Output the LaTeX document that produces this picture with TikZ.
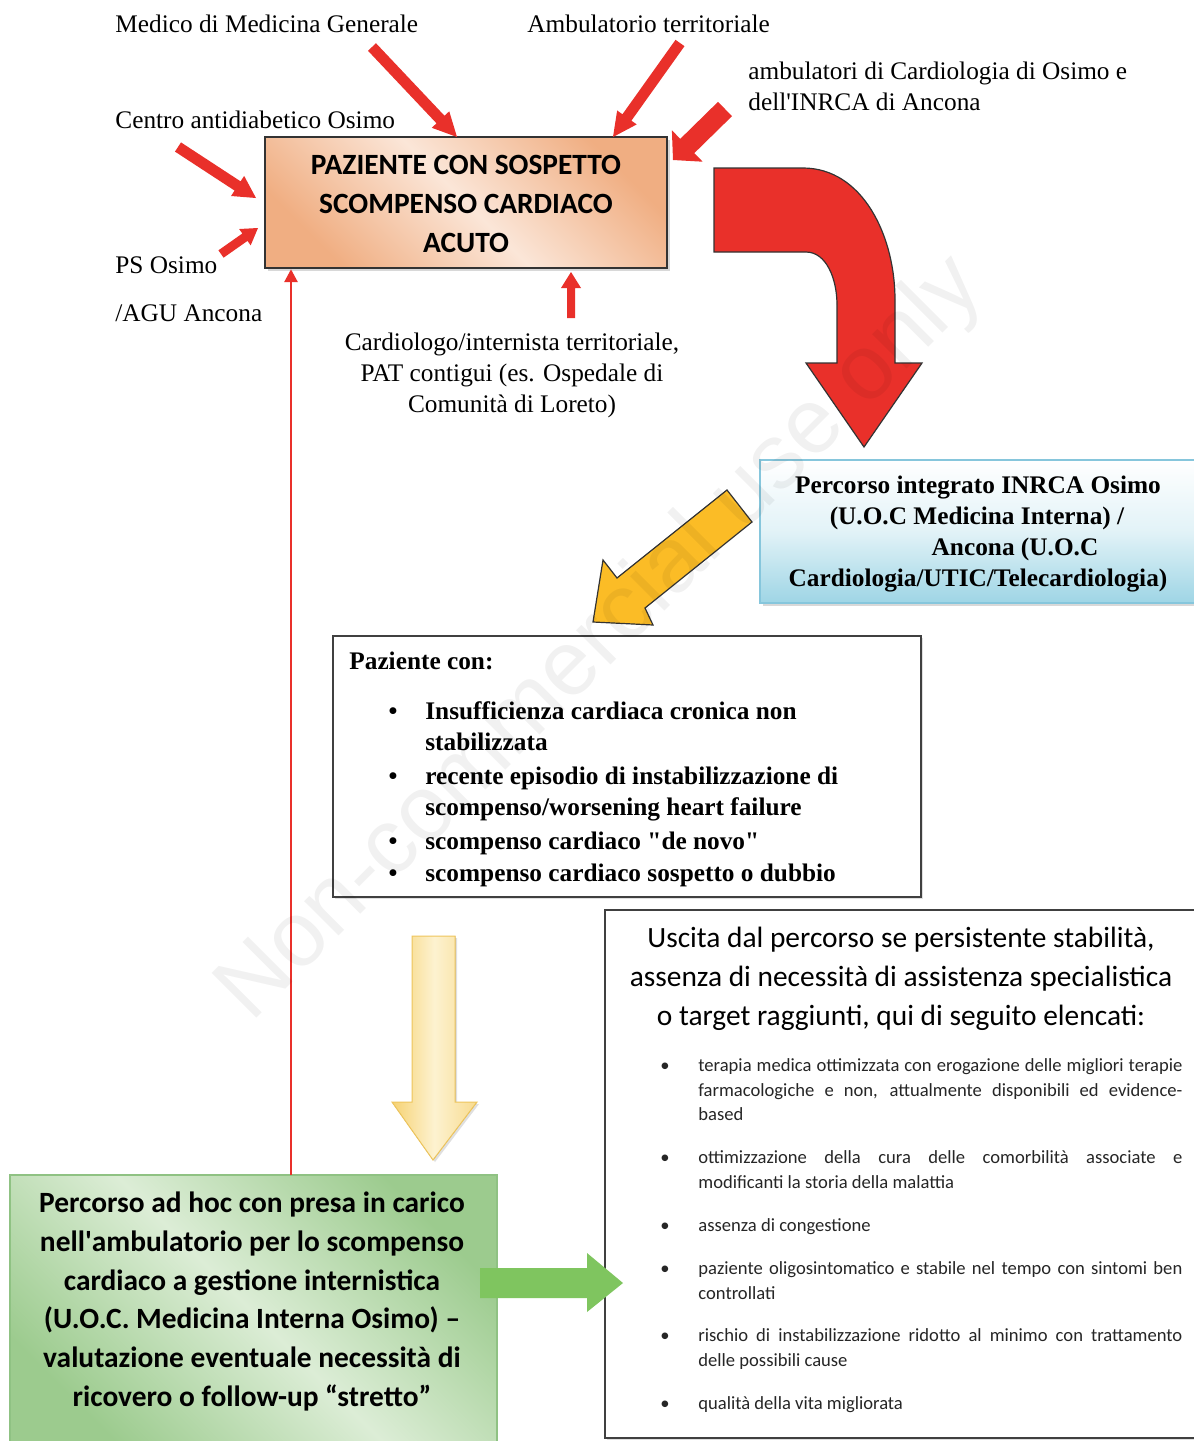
\documentclass[tikz,border=0pt]{standalone}
\usepackage{fontspec}
\setmainfont{Liberation Serif}
\newfontfamily\calib{Carlito}
\newfontfamily\wmfont{Liberation Sans}
\usetikzlibrary{calc,shadows,arrows.meta}

\definecolor{redA}{HTML}{E9302A}
\definecolor{orD}{HTML}{F0AE82}
\definecolor{orL}{HTML}{FBE6D8}
\definecolor{grD}{HTML}{9CCB8E}
\definecolor{grL}{HTML}{DCEDD6}
\definecolor{grE}{HTML}{8FC283}
\definecolor{blB}{HTML}{9ED5E5}
\definecolor{blE}{HTML}{86C6DC}
\definecolor{yelA}{HTML}{FBBC26}
\definecolor{yelD}{HTML}{F6D273}
\definecolor{yelL}{HTML}{FDF2D0}
\definecolor{yelE}{HTML}{EEC55C}
\definecolor{grA}{HTML}{7FC55F}

% straight block arrow: [style]{tail}{tip}{half shaft}{half head}{head length}
\newcommand{\bkarrow}[6][]{%
  \path (#2) coordinate (ba-t) (#3) coordinate (ba-h);
  \path ($(ba-h)!#6!(ba-t)$) coordinate (ba-b);
  \fill[#1] ($(ba-t)!#4!90:(ba-h)$) -- ($(ba-b)!#4!-90:(ba-t)$)
    -- ($(ba-b)!#5!-90:(ba-t)$) -- (ba-h) -- ($(ba-b)!#5!90:(ba-t)$)
    -- ($(ba-b)!#4!90:(ba-t)$) -- ($(ba-t)!#4!-90:(ba-h)$) -- cycle;
}
% justified line of the exit criteria
\newcommand{\jline}[1]{\makebox[242pt][s]{#1}}

\begin{document}
\begin{tikzpicture}[x=0.5pt, y=-0.5pt,
  tms/.style={inner sep=0pt, font=\fontsize{12.65}{15.5}\selectfont},
  tmsb/.style={inner sep=0pt, font=\fontsize{12.65}{15.5}\selectfont\bfseries},
  cal/.style={inner sep=0pt, font=\calib\fontsize{14.7}{19.5}\selectfont},
  calb/.style={inner sep=0pt, font=\calib\bfseries\fontsize{14.7}{19.5}\selectfont},
  calsm/.style={inner sep=0pt, font=\calib\fontsize{9.3}{12.5}\selectfont, text=black!85},
  bw/.style={anchor=base west},
  bc/.style={anchor=base},
  redfill/.style={fill=redA},
  softshadow/.style={drop shadow={shadow xshift=1.5pt, shadow yshift=-1.5pt, opacity=0.3}},
]
\useasboundingbox (0,0) rectangle (1194,1441);
\clip (0,0) rectangle (1194,1441);
\fill[white] (0,0) rectangle (1194,1441);

% ---------- boxes ----------
\node[draw=black!80, line width=1.2pt, minimum width=201pt, minimum height=65.5pt,
  top color=orD, bottom color=orD, middle color=orL, shading angle=-45, softshadow]
  (obox) at (466,202.5) {};
\node[draw=blE, line width=0.8pt, minimum width=220pt, minimum height=71.5pt,
  top color=white, bottom color=blB, middle color=white!70!blB, softshadow]
  (bbox) at (980,531.5) {};
\node[draw=black!75, line width=1pt, fill=white, minimum width=294pt, minimum height=130.5pt,
  drop shadow={shadow xshift=1pt, shadow yshift=-1pt, opacity=0.25}]
  (pbox) at (627,766.5) {};
\node[draw=black!75, line width=1pt, fill=white, minimum width=300pt, minimum height=264pt,
  drop shadow={shadow xshift=1pt, shadow yshift=-1pt, opacity=0.25}]
  (rbox) at (905,1174) {};
\node[draw=grE, line width=0.8pt, minimum width=243.5pt, minimum height=137.5pt,
  top color=grD, bottom color=grD, middle color=grL, shading angle=-45]
  (gbox) at (253.5,1312.5) {};

% ---------- incoming red arrows ----------
\coordinate (mmgT) at (372,47);   \coordinate (mmgH) at (457,137);
\coordinate (ambT) at (680,43);   \coordinate (ambH) at (613,137);
\coordinate (cadT) at (178,147);  \coordinate (cadH) at (256,198);
\coordinate (psT)  at (221,254);  \coordinate (psH)  at (258,228);
\coordinate (ctT)  at (571,318);  \coordinate (ctH)  at (571,272);
\coordinate (inT)  at (725,109);  \coordinate (inH)  at (673,160);
\bkarrow[redfill]{mmgT}{mmgH}{2.75pt}{6pt}{12pt}
\bkarrow[redfill]{ambT}{ambH}{2.75pt}{6pt}{12pt}
\bkarrow[redfill]{cadT}{cadH}{2.75pt}{6pt}{11pt}
\bkarrow[redfill]{psT}{psH}{2.25pt}{5pt}{8pt}
\bkarrow[redfill]{ctT}{ctH}{2pt}{5pt}{8pt}
\bkarrow[redfill]{inT}{inH}{5pt}{11pt}{10pt}

% return line from the outpatient pathway back to the patient box
\coordinate (retT) at (291,1175);
\draw[redA, line width=1.4pt, -{Triangle[length=6.5pt,width=6.5pt]}]
  (retT) -- (retT |- obox.south);

% ---------- big bent arrow ----------
\filldraw[fill=redA, draw=black!80, line width=0.6pt]
  (714,168) -- (803,168) .. controls (862,168) and (895,235) .. (895,300)
  -- (895,363) -- (922,363) -- (864,447) -- (806,363) -- (837,363) -- (837,305)
  .. controls (837,278) and (826,252) .. (806,252) -- (714,252) -- cycle;

% ---------- yellow diagonal arrow ----------
\filldraw[fill=yelA, draw=black!80, line width=0.6pt]
  (727,490) -- (752,522) -- (645,608) -- (653,625) -- (593,622) -- (603,560)
  -- (617,578) -- cycle;

% ---------- pale yellow down arrow ----------
\filldraw[left color=yelD, right color=yelD!80, middle color=yelL, draw=yelE, line width=0.5pt,
  drop shadow={shadow xshift=1pt, shadow yshift=-1pt, opacity=0.25}]
  (412,936) -- (455,936) -- (455,1102) -- (477,1102) -- (433,1160) -- (392,1102)
  -- (412,1102) -- cycle;

% ---------- green right arrow ----------
\fill[grA] (480,1268) -- (587,1268) -- (587,1253) -- (623,1283) -- (587,1312)
  -- (587,1298) -- (480,1298) -- cycle;

% ---------- labels ----------
\node[tms,bw] (lmmg) at (115,32) {Medico di Medicina Generale};
\node[tms,bw] (lamb) at (527,32) {Ambulatorio territoriale};
\node[tms,bw] (lcar1) at (748,79) {ambulatori di Cardiologia di Osimo e};
\node[tms,bw] (lcar2) at (748,110) {dell\textquotesingle INRCA di Ancona};
\node[tms,bw] (lcad) at (115,128) {Centro antidiabetico Osimo};
\node[tms,bw] (lps1) at (115,273) {PS Osimo};
\node[tms,bw] (lps2) at (115,321) {/AGU Ancona};
\node[tms,bc] (lct1) at (512,350) {Cardiologo/internista territoriale,};
\node[tms,bc] (lct2) at (512,381) {PAT contigui (es. Ospedale di};
\node[tms,bc] (lct3) at (512,412) {Comunità di Loreto)};

% patient box
\node[calb,bc] (ot1) at (466,174.5) {PAZIENTE CON SOSPETTO};
\node[calb,bc] (ot2) at (466,213.5) {SCOMPENSO CARDIACO};
\node[calb,bc] (ot3) at (466,252.5) {ACUTO};

% integrated pathway box
\node[tmsb,bc] (bt1) at (978,493) {Percorso integrato INRCA Osimo};
\node[tmsb,bc] (bt2) at (977,524) {(U.O.C Medicina Interna) /};
\node[tmsb,bc] (bt3) at (1015,555) {Ancona (U.O.C};
\node[tmsb,bc] (bt4) at (978,586) {Cardiologia/UTIC/Telecardiologia)};

% patient conditions
\node[tmsb,bw] (pt0) at (349,669) {Paziente con:};
\foreach \y [count=\i] in {719,784,849,881}
  \node[tmsb,bc] (pb\i) at (393,\y) {\textbullet};
\node[tmsb,bw] (pt1) at (425,719) {Insufficienza cardiaca cronica non};
\node[tmsb,bw] (pt2) at (425,750) {stabilizzata};
\node[tmsb,bw] (pt3) at (425,784) {recente episodio di instabilizzazione di};
\node[tmsb,bw] (pt4) at (425,815) {scompenso/worsening heart failure};
\node[tmsb,bw] (pt5) at (425,849) {scompenso cardiaco \textquotedbl de novo\textquotedbl};
\node[tmsb,bw] (pt6) at (425,881) {scompenso cardiaco sospetto o dubbio};

% exit criteria
\node[cal,bc] (rh1) at (901,947) {Uscita dal percorso se persistente stabilità,};
\node[cal,bc] (rh2) at (901,986) {assenza di necessità di assistenza specialistica};
\node[cal,bc] (rh3) at (901,1025) {o target raggiunti, qui di seguito elencati:};
\foreach \y [count=\i] in {1071,1163,1231,1274,1341,1409}
  \node[calsm,bc] (rb\i) at (665,\y) {\textbullet};
\node[calsm,bw] (rl1) at (698,1071) {\jline{terapia medica ottimizzata con erogazione delle migliori terapie}};
\node[calsm,bw] (rl2) at (698,1096) {\jline{farmacologiche e non, attualmente disponibili ed evidence-}};
\node[calsm,bw] (rl3) at (698,1120) {based};
\node[calsm,bw] (rl4) at (698,1163) {\jline{ottimizzazione della cura delle comorbilità associate e}};
\node[calsm,bw] (rl5) at (698,1188) {modificanti la storia della malattia};
\node[calsm,bw] (rl6) at (698,1231) {assenza di congestione};
\node[calsm,bw] (rl7) at (698,1274) {\jline{paziente oligosintomatico e stabile nel tempo con sintomi ben}};
\node[calsm,bw] (rl8) at (698,1299) {controllati};
\node[calsm,bw] (rl9) at (698,1341) {\jline{rischio di instabilizzazione ridotto al minimo con trattamento}};
\node[calsm,bw] (rl10) at (698,1366) {delle possibili cause};
\node[calsm,bw] (rl11) at (698,1409) {qualità della vita migliorata};

% outpatient pathway box
\node[calb,bc] (gt1) at (252,1212) {Percorso ad hoc con presa in carico};
\node[calb,bc] (gt2) at (252,1251) {nell\textquotesingle ambulatorio per lo scompenso};
\node[calb,bc] (gt3) at (252,1290) {cardiaco a gestione internistica};
\node[calb,bc] (gt4) at (252,1328) {(U.O.C. Medicina Interna Osimo) –};
\node[calb,bc] (gt5) at (252,1367) {valutazione eventuale necessità di};
\node[calb,bc] (gt6) at (252,1406) {ricovero o follow-up “stretto”};

% ---------- watermark ----------
\node[inner sep=0pt, font=\wmfont\fontsize{46}{46}\selectfont, text=black, text opacity=0.055,
  rotate=45] (wmark) at (602,640) {Non-commercial use only};
\end{tikzpicture}
\end{document}
